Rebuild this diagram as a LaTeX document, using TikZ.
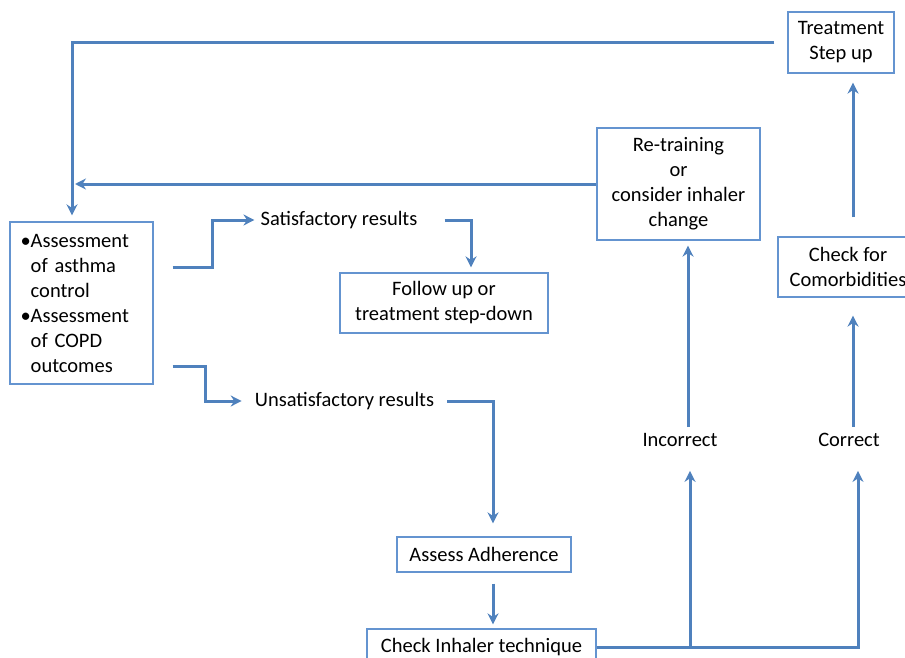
\documentclass[tikz,border=0pt]{standalone}
\usepackage{fontspec}
\setmainfont{Carlito}
\usepackage{tikz}
\usetikzlibrary{arrows.meta}
\definecolor{flowblue}{RGB}{79,129,189}
\definecolor{boxblue}{RGB}{100,148,208}

\begin{document}
\begin{tikzpicture}[x=1pt, y=-1pt, every node/.style={font=\fontsize{20.5}{25}\selectfont, inner sep=0pt},
	box/.style={draw=boxblue, line width=1.2pt, align=center},
	flow/.style={draw=flowblue, line width=3pt, ->}, >={Stealth[length=11pt, width=11pt]}]
	\useasboundingbox (0,0) rectangle (905,658);
	\node[box, minimum width=106, minimum height=61] (stepup) at (841,42.5) {Treatment\\Step up};
	\node[box, minimum width=163, minimum height=112] (retrain) at (678.5,184) {Re-training\\or\\consider inhaler\\change};
	\node[box, minimum width=143, minimum height=162, text width=122, align=left] (assess) at (81.5,303)
		{\textbullet Assessment\\\phantom{\textbullet}of asthma\\\phantom{\textbullet}control\\\textbullet Assessment\\\phantom{\textbullet}of COPD\\\phantom{\textbullet}outcomes};
	\node[inner sep=6pt] (satis) at (339,220) {Satisfactory results};
	\node[box, minimum width=208, minimum height=60] (follow) at (444,303) {Follow up or\\treatment step-down};
	\node[inner sep=6pt] (unsatis) at (344.5,401) {Unsatisfactory results};
	\node[box, minimum width=174, minimum height=35] (adher) at (484,554.5) {Assess Adherence};
	\node[box, minimum width=229, minimum height=36] (inhaler) at (481.5,647) {Check Inhaler technique};
	\node[inner sep=6pt] (incorrect) at (680,440) {Incorrect};
	\node[inner sep=6pt] (correct) at (849,440) {Correct};
	\node[box, minimum width=140, minimum height=60] (comorb) at (848,267) {Check for\\Comorbidities};
	% loop back to the start
	\draw[flow, shorten >=6pt] ([xshift=-13pt]stepup.west) -| ([xshift=-9.5pt]assess.north);
	\draw[flow] (retrain.west) -- ([xshift=-6.5pt]retrain.west -| assess.north);
	% results
	\draw[flow] ([shift={(19pt,36pt)}]assess.east) -- ++(40,0) |- (satis.west);
	\draw[flow, shorten >=5pt] ([xshift=21pt]satis.east) -| ([xshift=27pt]follow.north);
	\draw[flow, shorten >=7pt] ([shift={(19pt,-63pt)}]assess.east) -- ++(33,0) |- (unsatis.west);
	\draw[flow, shorten >=13pt] ([xshift=7pt]unsatis.east) -| ([xshift=9pt]adher.north);
	\draw[flow, shorten <=11pt, shorten >=4pt] ([xshift=9pt]adher.south) -- ([xshift=9pt]adher.south |- inhaler.north);
	% inhaler technique
	\draw[flow, shorten >=18pt] (inhaler.east) -| ([xshift=9pt]correct.south);
	\draw[flow, shorten >=18pt] ([xshift=10pt]inhaler.east -| incorrect.south) -- ([xshift=10pt]incorrect.south);
	\draw[flow, shorten >=5pt] ([xshift=8pt]incorrect.north) -- ([xshift=8pt]incorrect.north |- retrain.south);
	\draw[flow, shorten >=18pt] ([xshift=4pt]correct.north) -- ([xshift=4pt]correct.north |- comorb.south);
	\draw[flow, shorten <=19pt, shorten >=9pt] ([xshift=5pt]comorb.north) -- ([xshift=5pt]comorb.north |- stepup.south);
\end{tikzpicture}
\end{document}
